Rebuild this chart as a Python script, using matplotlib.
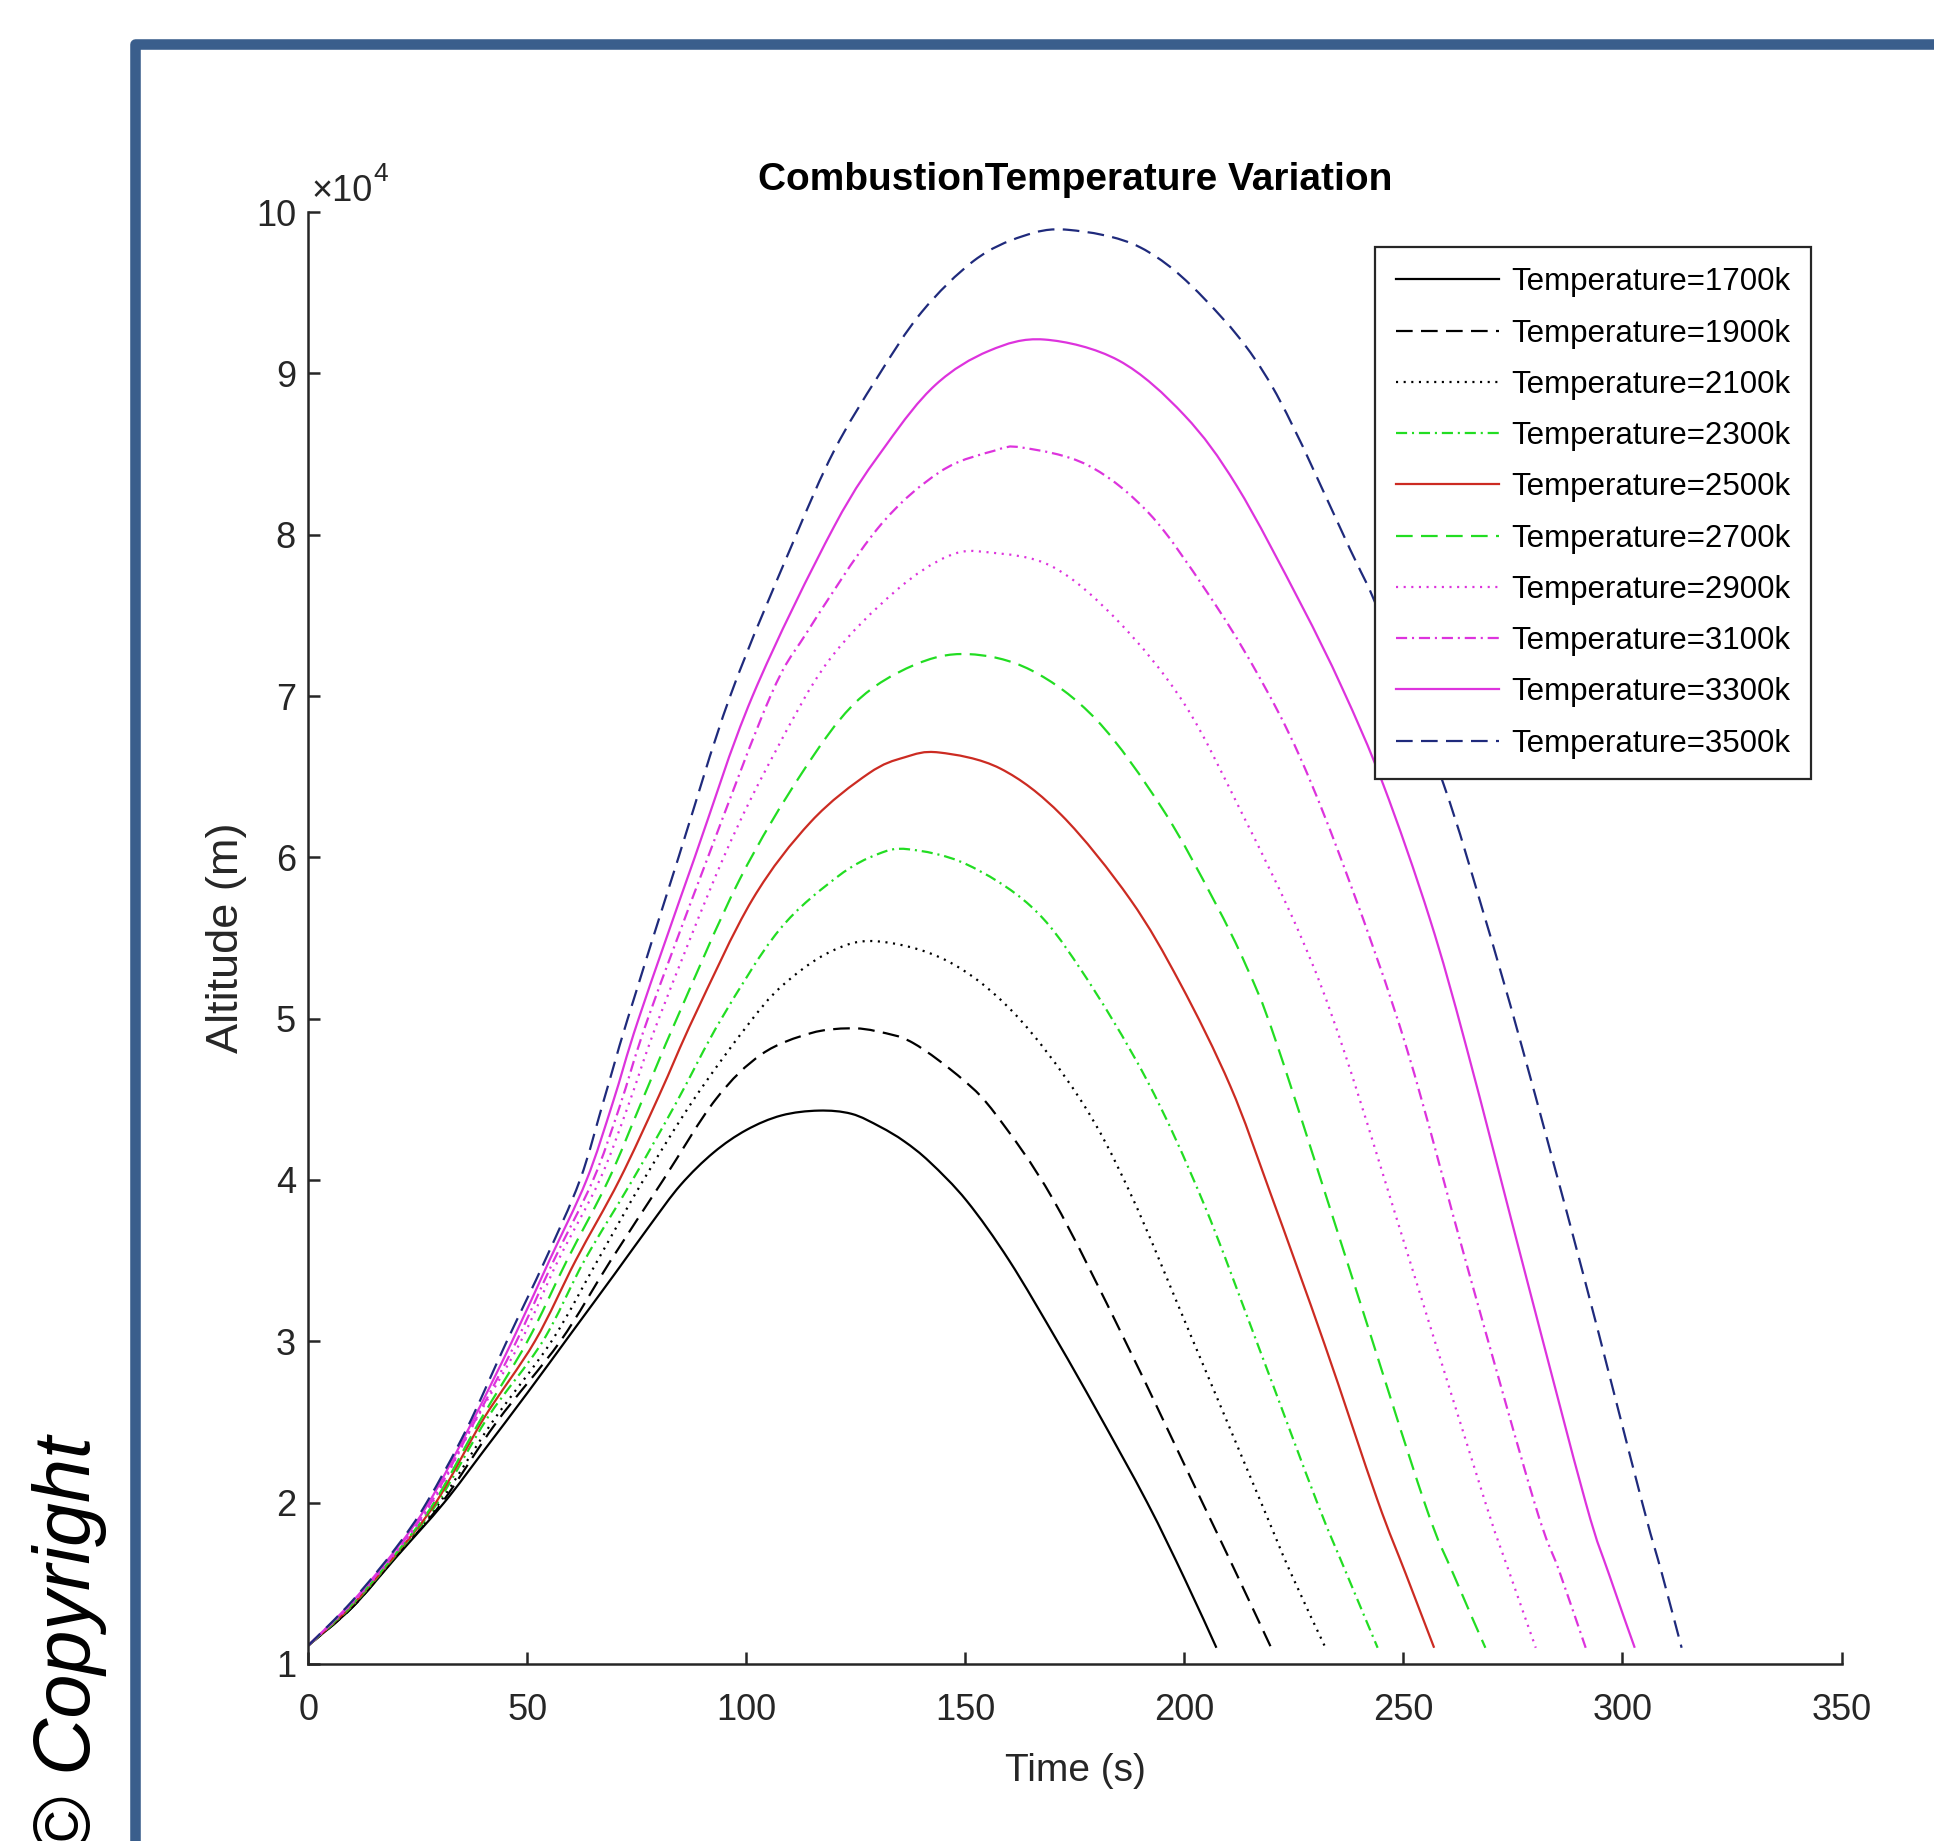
import matplotlib
matplotlib.use("Agg")
import numpy as np
import matplotlib.pyplot as plt
from matplotlib.lines import Line2D
from matplotlib.path import Path
from matplotlib.patches import PathPatch, Rectangle

W, H, DPI = 1934, 1841, 100

# ── 데이터: 시간 (s) / 고도 (x10^4 m), 그림에서 읽은 값 ─────────────
labels = ["Temperature=1700k", "Temperature=1900k", "Temperature=2100k",
          "Temperature=2300k", "Temperature=2500k", "Temperature=2700k",
          "Temperature=2900k", "Temperature=3100k", "Temperature=3300k",
          "Temperature=3500k"]

t_1700 = [0, 10, 20, 31, 40, 50, 60, 70, 78, 85, 92.5, 100, 108, 116.5, 124,
          130.5, 136, 141.9, 150.3, 160, 171, 180, 191.5, 200, 207.3]
h_1700 = [1.115, 1.35, 1.66, 2.0, 2.32, 2.68, 3.05, 3.42, 3.72, 3.97, 4.17,
          4.31, 4.40, 4.43, 4.41, 4.33, 4.24, 4.11, 3.87, 3.50, 3.0, 2.57,
          2.0, 1.53, 1.10]

t_1900 = [0, 10, 20, 30.5, 43, 57.5, 69, 81, 93, 103.5, 114.7, 123.5, 130,
          138, 149.5, 157.1, 170, 186.5, 204.1, 211.5, 219.8]
h_1900 = [1.115, 1.35, 1.665, 2.0, 2.5, 3.0, 3.5, 4.0, 4.5, 4.78, 4.91, 4.94,
          4.92, 4.85, 4.62, 4.40, 3.88, 3.0, 2.0, 1.58, 1.10]

t_2100 = [0, 10, 20, 30, 42, 55.5, 66, 76.5, 88, 100, 108, 118.8, 129.5,
          145.7, 160.9, 176.2, 187.6, 202, 217.5, 224, 232.2]
h_2100 = [1.115, 1.355, 1.67, 2.0, 2.5, 3.0, 3.5, 4.0, 4.5, 4.95, 5.2, 5.41,
          5.48, 5.36, 5.04, 4.50, 3.92, 3.0, 2.0, 1.58, 1.10]

t_2300 = [0, 10, 20, 29.5, 41, 53.5, 63, 74, 84, 94.3, 107.5, 120.8, 130,
          137, 150, 164.8, 176.2, 191.4, 204.3, 217, 230.3, 237, 244.1]
h_2300 = [1.115, 1.36, 1.675, 2.0, 2.53, 3.0, 3.5, 4.0, 4.48, 5.0, 5.55,
          5.88, 6.02, 6.05, 5.96, 5.70, 5.31, 4.62, 3.86, 2.96, 2.0, 1.56,
          1.10]

t_2500 = [0, 10, 20, 29.1, 40, 51.7, 61, 71, 80, 88.2, 101.4, 114.7, 127.9,
          136.1, 144, 158, 172, 187.6, 199, 210.5, 219.6, 232, 244, 250.5,
          257]
h_2500 = [1.115, 1.365, 1.68, 2.0, 2.52, 3.0, 3.5, 4.0, 4.52, 5.02, 5.74,
          6.22, 6.52, 6.62, 6.65, 6.55, 6.26, 5.74, 5.22, 4.58, 3.92, 2.98,
          2.02, 1.56, 1.10]

t_2700 = [0, 10, 20, 28.7, 39, 50, 59, 68.5, 76, 84.1, 98.4, 112.6, 124.9,
          138.1, 150.5, 165, 180, 195, 206.6, 214.2, 221, 238, 254.8, 261.5,
          268.7]
h_2700 = [1.115, 1.37, 1.685, 2.0, 2.5, 3.0, 3.5, 4.0, 4.48, 5.0, 5.86, 6.52,
          6.96, 7.19, 7.26, 7.16, 6.85, 6.3, 5.74, 5.32, 4.85, 3.42, 2.0, 1.55,
          1.10]

t_2900 = [0, 10, 20, 28.3, 38, 48.5, 57, 66.5, 73, 80, 94.8, 106.5, 118.8,
          134, 146.3, 155.5, 170, 185, 200, 213, 226.4, 236.3, 252, 268.7,
          274, 280.2]
h_2900 = [1.115, 1.375, 1.69, 2.0, 2.5, 3.0, 3.5, 4.0, 4.46, 5.0, 6.0, 6.65,
          7.22, 7.65, 7.87, 7.89, 7.80, 7.46, 6.95, 6.28, 5.52, 4.81, 3.45,
          2.0, 1.58, 1.10]

t_3100 = [0, 10, 20, 28, 37.5, 47.5, 56, 65, 71, 77.5, 91.2, 105.5, 113.7,
          130, 144.2, 156.5, 163, 178, 192, 205, 216, 226.4, 237.8, 250.8,
          265, 279.9, 285.5, 291.6]
h_3100 = [1.115, 1.38, 1.70, 2.0, 2.48, 3.0, 3.5, 4.0, 4.45, 5.0, 6.0, 7.0,
          7.39, 8.04, 8.39, 8.52, 8.54, 8.43, 8.13, 7.65, 7.17, 6.62, 5.84,
          4.81, 3.42, 2.0, 1.58, 1.10]

t_3300 = [0, 10, 20, 27.5, 37, 46.5, 55, 63.5, 69.5, 75.4, 88.2, 101.4, 120,
          132, 143.2, 155.4, 168, 185, 200, 212, 226.4, 236, 245.4, 256,
          264.5, 278, 291.6, 297, 302.8]
h_3300 = [1.115, 1.385, 1.71, 2.0, 2.48, 3.0, 3.5, 4.0, 4.48, 5.0, 6.0, 7.0,
          8.05, 8.56, 8.93, 9.14, 9.21, 9.08, 8.74, 8.30, 7.58, 7.05, 6.45,
          5.62, 4.81, 3.40, 2.0, 1.55, 1.10]

t_3500 = [0, 10, 20, 27, 36, 45.3, 54, 62, 67.5, 72.9, 84.5, 96.3, 110.6, 120,
          130, 140, 152, 163, 173.5, 190, 205, 220, 237.8, 244.7, 259.2, 268,
          277, 291, 304.5, 309, 313.5]
h_3500 = [1.115, 1.39, 1.72, 2.0, 2.45, 3.0, 3.5, 4.0, 4.5, 5.0, 6.0, 7.0,
          7.95, 8.52, 8.98, 9.38, 9.70, 9.85, 9.89, 9.78, 9.45, 8.92, 7.91,
          7.50, 6.45, 5.68, 4.83, 3.42, 2.0, 1.56, 1.10]

times = [t_1700, t_1900, t_2100, t_2300, t_2500, t_2700, t_2900, t_3100,
         t_3300, t_3500]
heights = [h_1700, h_1900, h_2100, h_2300, h_2500, h_2700, h_2900, h_3100,
           h_3300, h_3500]

# ── 스타일 ──────────────────────────────────────────────────────────
GREEN, RED, MAG, NAVY = "#22dd22", "#cc2b22", "#dd33dd", "#1f2a7c"
colors = ["k", "k", "k", GREEN, RED, GREEN, MAG, MAG, MAG, NAVY]
SOLID, DASH, DOT, DASHDOT = None, (12, 6), (1.5, 4), (8, 3.5, 1.5, 3.5)
styles = [SOLID, DASH, DOT, DASHDOT, SOLID, DASH, DOT, DASHDOT, SOLID, DASH]

FONT = "Liberation Sans"
INK = "#262626"
LW = 1.6
plt.rcParams["font.family"] = [FONT, "DejaVu Sans"]
plt.rcParams["lines.scale_dashes"] = False


def smooth_path(t, h):
    # 읽은 점들을 지나는 매끈한 곡선 (Catmull-Rom -> 3차 베지어)
    p = np.column_stack([t, h]).astype(float)
    verts, codes = [p[0]], [Path.MOVETO]
    n = len(p)
    for i in range(n - 1):
        p0 = p[i - 1] if i > 0 else p[i]
        p1, p2 = p[i], p[i + 1]
        p3 = p[i + 2] if i + 2 < n else p[i + 1]
        verts += [p1 + (p2 - p0) / 6, p2 - (p3 - p1) / 6, p2]
        codes += [Path.CURVE4] * 3
    return Path(verts, codes)


fig = plt.figure(figsize=(W / DPI, H / DPI), dpi=DPI)
ax = fig.add_axes([308.4 / W, 1 - 1663.9 / H, 1533.1 / W, 1451.8 / H])

handles = []
for t, h, c, d, lab in zip(times, heights, colors, styles, labels):
    ls = "-" if d is None else (0, d)
    ax.add_patch(PathPatch(smooth_path(t, h), fill=False, edgecolor=c,
                           lw=LW, linestyle=ls, joinstyle="round"))
    handles.append(Line2D([], [], color=c, lw=LW, linestyle=ls, label=lab))

ax.set_xlim(0, 350)
ax.set_ylim(1, 10)
ax.set_xticks(range(0, 351, 50))
ax.set_yticks(range(1, 11))
for s in ("top", "right"):
    ax.spines[s].set_visible(False)
for s in ("left", "bottom"):
    ax.spines[s].set_linewidth(1.8)
    ax.spines[s].set_color(INK)
ax.tick_params(direction="in", length=8.6, width=1.8, colors=INK,
               labelsize=26)
ax.tick_params(axis="x", pad=21)
ax.tick_params(axis="y", pad=9)

ax.set_title("CombustionTemperature Variation", fontsize=28,
             fontweight="bold", pad=16, color="black")
ax.set_xlabel("Time (s)", fontsize=28, labelpad=18, color=INK)
ax.set_ylabel("Altitude (m)", fontsize=32.5, labelpad=6, color=INK)

# x10^4 표시
fig.text(311 / W, 1 - 201 / H, "×10", fontsize=26, color=INK,
         ha="left", va="baseline")
fig.text(373 / W, 1 - 181 / H, "4", fontsize=19, color=INK,
         ha="left", va="baseline")

leg = ax.legend(handles=handles, loc="upper right",
                bbox_to_anchor=(0.980, 0.976), borderaxespad=0,
                fancybox=False, framealpha=1, edgecolor=INK,
                prop={"size": 22.5}, handlelength=3.3, handletextpad=0.4,
                labelspacing=0.68, borderpad=0.65)
leg.get_frame().set_linewidth(1.6)

# 파란 테두리 + 저작권 표기
fig.patches.append(Rectangle((134.5 / W, -0.2), 1.5, 1.2 - 43.5 / H,
                             transform=fig.transFigure, fill=False,
                             edgecolor="#3a5e8c", lw=7.6, joinstyle="round",
                             clip_on=False))
fig.text(90 / W, 1 - 1855 / H, "© Copyright", fontsize=57,
         style="italic", color="black",
         rotation=90, rotation_mode="anchor", ha="left", va="baseline")

fig.savefig("out.png", dpi=DPI)
